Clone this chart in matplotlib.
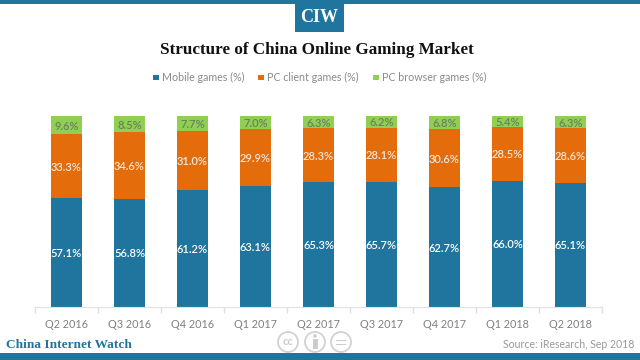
import matplotlib
matplotlib.use("Agg")
import matplotlib.pyplot as plt
from matplotlib.patches import Rectangle, Circle

quarters = ["Q2 2016", "Q3 2016", "Q4 2016", "Q1 2017", "Q2 2017",
            "Q3 2017", "Q4 2017", "Q1 2018", "Q2 2018"]
mobile = [57.1, 56.8, 61.2, 63.1, 65.3, 65.7, 62.7, 66.0, 65.1]
client = [33.3, 34.6, 31.0, 29.9, 28.3, 28.1, 30.6, 28.5, 28.6]
browser = [9.6, 8.5, 7.7, 7.0, 6.3, 6.2, 6.8, 5.4, 6.3]
series_names = ["Mobile games (%)", "PC client games (%)", "PC browser games (%)"]

blue = "#20759e"
orange = "#e56c0a"
green = "#8fcf52"
W, H = 640, 360

plt.rcParams["font.family"] = ["Lato", "DejaVu Sans"]

fig = plt.figure(figsize=(6.4, 3.6), dpi=100)

# page furniture, in pixel coordinates
bg = fig.add_axes([0, 0, 1, 1])
bg.set_xlim(0, W)
bg.set_ylim(H, 0)
bg.axis("off")
bg.add_patch(Rectangle((0, 0), W, 4, color=blue, lw=0))
bg.add_patch(Rectangle((295, 4), 49, 28, color=blue, lw=0))
bg.add_patch(Rectangle((0, 353), W, 7, color=blue, lw=0))
bg.text(319.5, 18, "CIW", color="white", fontsize=13, fontweight="bold",
        family="Liberation Serif", ha="center", va="center")
bg.text(316.5, 50, "Structure of China Online Gaming Market", color="#111111",
        fontsize=12.3, fontweight="bold", family="Liberation Serif",
        ha="center", va="center")
bg.text(6, 345, "China Internet Watch", color=blue, fontsize=9.6,
        fontweight="bold", family="Liberation Serif", ha="left", va="center")
bg.text(634, 345, "Source: iResearch, Sep 2018", color="#999999", fontsize=7.6,
        ha="right", va="center")

# licence icons
for cx in [288, 315, 341]:
    bg.add_patch(Circle((cx, 342), 10, fill=False, ec="#d2d2d2", lw=1.3))
bg.text(288, 341.5, "cc", color="#cccccc", fontsize=8, fontweight="bold",
        ha="center", va="center")
bg.add_patch(Circle((315, 336), 1.8, color="#cccccc", lw=0))
bg.add_patch(Rectangle((312.5, 339), 5, 10, color="#cccccc", lw=0))
bg.add_patch(Rectangle((336, 339.5), 10, 1.6, color="#cccccc", lw=0))
bg.add_patch(Rectangle((336, 343.5), 10, 1.6, color="#cccccc", lw=0))

# legend
legend_x = [153, 258, 373]
legend_colors = [blue, orange, green]
for x, c, name in zip(legend_x, legend_colors, series_names):
    bg.add_patch(Rectangle((x, 74.5), 5.5, 5.5, color=c, lw=0))
    bg.text(x + 9, 77.5, name, color="#8a8a8a", fontsize=7.7, ha="left", va="center")

# chart
left, right, top, bottom = 35, 602, 116, 307
ax = fig.add_axes([left / W, 1 - bottom / H, (right - left) / W, (bottom - top) / H])
ax.patch.set_alpha(0)
xs = list(range(len(quarters)))
width = 0.5

b1 = ax.bar(xs, mobile, width, color=blue)
b2 = ax.bar(xs, client, width, bottom=mobile, color=orange)
bottoms = [m + c for m, c in zip(mobile, client)]
b3 = ax.bar(xs, browser, width, bottom=bottoms, color=green)

for bars, vals, col in [(b1, mobile, "white"), (b2, client, "#f3e6da"), (b3, browser, "#6f7f60")]:
    labels = ax.bar_label(bars, labels=[f"{v:.1f}%" for v in vals], label_type="center",
                          color=col, fontsize=8, fontweight="semibold")
    for t in labels:
        t.set_va("center_baseline")

ax.set_xlim(-0.5, len(quarters) - 0.5)
ax.set_ylim(0, 100)
ax.set_yticks([])
for s in ["top", "left", "right"]:
    ax.spines[s].set_visible(False)
ax.spines["bottom"].set_color("#e0e0e0")
ax.set_xticks(xs)
ax.set_xticklabels(quarters, color="#808080", fontsize=7.8)
ax.set_xticks([x - 0.5 for x in range(len(quarters) + 1)], minor=True)
ax.tick_params(axis="x", which="major", length=0, pad=8.5)
ax.tick_params(axis="x", which="minor", length=4, color="#e0e0e0", width=1)

fig.savefig("out.png", dpi=100)
